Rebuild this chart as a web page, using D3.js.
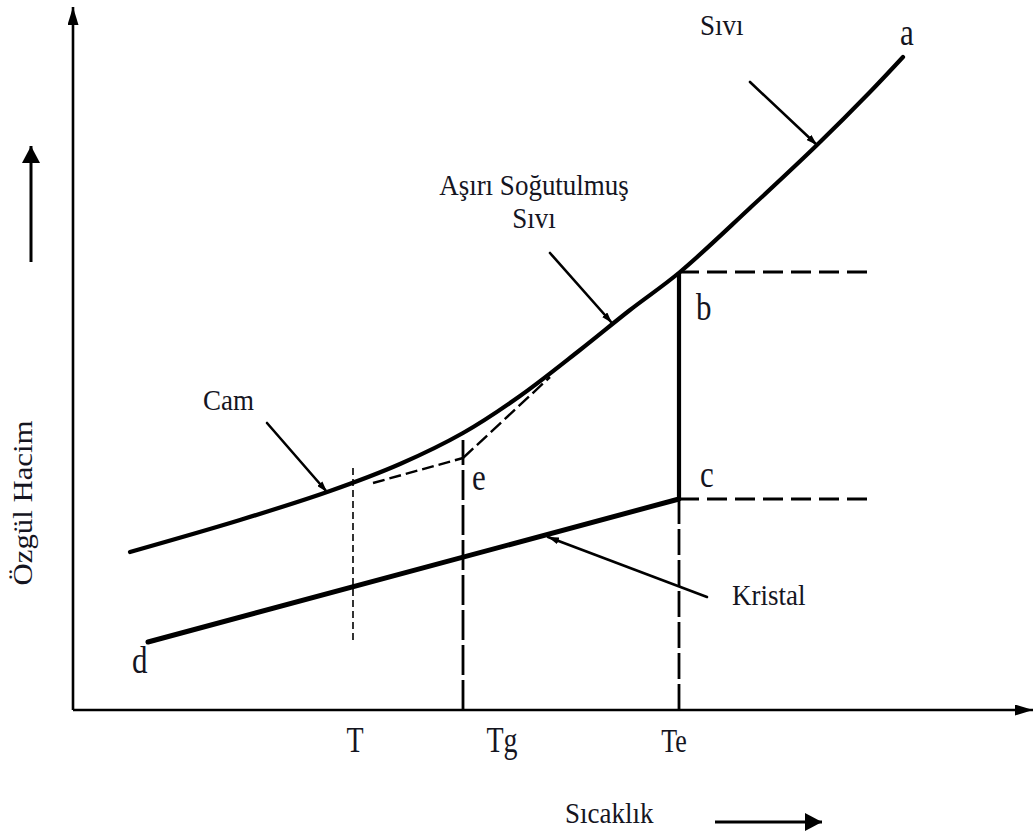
<!DOCTYPE html>
<html>
<head>
<meta charset="utf-8">
<script src="https://cdn.jsdelivr.net/npm/d3@7"></script>
<style>
  html, body { margin: 0; padding: 0; background: #fff; }
  svg { display: block; }
  text { font-family: "Liberation Serif", "Times New Roman", serif; fill: #15151f; }
</style>
</head>
<body>
<svg id="chart" width="1035" height="833"></svg>
<script>
// ---------- data (arbitrary temperature / specific-volume units) ----------
const liquidGlassCurveX = [5.7, 16.7, 25.7, 32.7, 39.0, 44.7, 50.7, 55.7, 60.7, 67.7, 74.4, 79.7, 83.0];
const liquidGlassCurveY = [15.8, 19.0, 21.9, 24.6, 27.7, 31.4, 36.0, 40.0, 43.8, 50.2, 56.5, 61.8, 65.3];

const crystalX = [7.5, 60.6];
const crystalY = [6.8, 21.1];

const tickNames = ["T", "Tg", "Te"];
const tickValues = [28.0, 39.0, 60.6];

const levelB = 43.8;       // liquid volume at Te
const levelC = 21.1;       // crystal volume at Te
const levelEnd = 80.2;     // end of horizontal dashed guides
const eX = 39.0, eY = 25.2;           // point e
const glassExtrapStart = [30.0, 22.7];
const liquidExtrapEnd = [47.7, 33.3];
const tLineRange = [7.0, 24.5];
const tgLineTop = 27.0;

const pointLabels = ["a", "b", "c", "d", "e"];
const pointLabelX = [82.7, 62.3, 62.7, 5.9, 39.9];
const pointLabelY = [66.5, 39.0, 22.3, 3.7, 22.0];

const annotationTexts = ["Cam", "Sıvı", "Kristal"];
const annotationTextX = [13.0, 62.7, 65.9];
const annotationTextY = [30.0, 67.5, 10.5];
const annotationFromX = [19.4, 67.7, 63.4, 47.7];
const annotationFromY = [28.7, 62.8, 11.3, 45.7];
const annotationToX   = [25.4, 74.4, 47.5, 53.9];
const annotationToY   = [21.8, 56.5, 17.3, 38.7];
const supercooledLines = ["Aşırı Soğutulmuş", "Sıvı"];
const supercooledX = 46.1;
const supercooledY = [51.5, 48.2];

const xAxisTitle = "Sıcaklık";
const yAxisTitle = "Özgül Hacim";

// ---------- scales ----------
const svg = d3.select("#chart");
const x = d3.scaleLinear().domain([0, 96]).range([73, 1033]);
const y = d3.scaleLinear().domain([0, 70.2]).range([710, 8]);

// markers
const defs = svg.append("defs");
function marker(id, w, h) {
  defs.append("marker").attr("id", id)
    .attr("viewBox", `0 0 ${w} ${h}`).attr("refX", w).attr("refY", h / 2)
    .attr("markerWidth", w).attr("markerHeight", h).attr("markerUnits", "userSpaceOnUse")
    .attr("orient", "auto")
    .append("path").attr("d", `M0,0L${w},${h / 2}L0,${h}Z`).attr("fill", "#000");
}
marker("axisHead", 18, 11);
marker("bigHead", 17, 18);
marker("smallHead", 11, 7);

// ---------- axes ----------
const g = svg.append("g");
g.append("line").attr("x1", x(0)).attr("y1", y(0)).attr("x2", x(0)).attr("y2", y(70.2) - 1)
  .attr("stroke", "#000").attr("stroke-width", 2.6).attr("marker-end", "url(#axisHead)");
g.append("line").attr("x1", x(0)).attr("y1", y(0)).attr("x2", x(96)).attr("y2", y(0))
  .attr("stroke", "#000").attr("stroke-width", 2.6).attr("marker-end", "url(#axisHead)");

// tick labels (placed under their positions, as in the original drawing)
const tickLabelShift = [2, 39, -5];
tickNames.forEach((t, i) => {
  g.append("text").text(t)
    .attr("text-anchor", "middle")
    .attr("transform", `translate(${x(tickValues[i]) + tickLabelShift[i]},752) scale(1,1.3)`)
    .attr("font-size", i === 2 ? 26 : 28);
});

// axis titles
g.append("text").text(xAxisTitle).attr("font-size", 27)
  .attr("transform", "translate(565,823) scale(1,1.1)");
g.append("text").text(yAxisTitle).attr("font-size", 28).attr("text-anchor", "middle")
  .attr("transform", "translate(32,503) rotate(-90) scale(1.1,1)");

// direction arrows
g.append("line").attr("x1", 31).attr("y1", 262).attr("x2", 31).attr("y2", 146)
  .attr("stroke", "#000").attr("stroke-width", 3).attr("marker-end", "url(#bigHead)");
g.append("line").attr("x1", 715).attr("y1", 822).attr("x2", 822).attr("y2", 822)
  .attr("stroke", "#000").attr("stroke-width", 3).attr("marker-end", "url(#bigHead)");

// ---------- guide lines ----------
function seg(x1, y1, x2, y2, w, dash) {
  const l = g.append("line").attr("x1", x(x1)).attr("y1", y(y1)).attr("x2", x(x2)).attr("y2", y(y2))
    .attr("stroke", "#000").attr("stroke-width", w);
  if (dash) l.attr("stroke-dasharray", dash);
  return l;
}
// T line (thin, short dashes)
seg(tickValues[0], tLineRange[0], tickValues[0], tLineRange[1], 1.6, "7,4");
// Tg line
seg(tickValues[1], 0, tickValues[1], tgLineTop, 2.8, "30,5");
// Te: dashed below c, solid from c to b
seg(tickValues[2], 0, tickValues[2], levelC, 2.8, "26,5");
seg(tickValues[2], levelC, tickValues[2], levelB, 4.2, null);
// horizontal guides
seg(tickValues[2], levelB, levelEnd, levelB, 2.8, "20,8");
seg(tickValues[2], levelC, levelEnd, levelC, 2.8, "20,8");
// extrapolations through e
seg(glassExtrapStart[0], glassExtrapStart[1], eX, eY, 2.4, "12,5");
seg(eX, eY, liquidExtrapEnd[0], liquidExtrapEnd[1], 2.4, "14,5");

// ---------- main curves ----------
const curvePts = liquidGlassCurveX.map((v, i) => [v, liquidGlassCurveY[i]]);
const line = d3.line().x(d => x(d[0])).y(d => y(d[1])).curve(d3.curveCatmullRom.alpha(0.5));
g.append("path").attr("d", line(curvePts)).attr("fill", "none")
  .attr("stroke", "#000").attr("stroke-width", 4.2).attr("stroke-linecap", "round");
const crystalPts = crystalX.map((v, i) => [v, crystalY[i]]);
g.append("path").attr("d", d3.line().x(d => x(d[0])).y(d => y(d[1]))(crystalPts)).attr("fill", "none")
  .attr("stroke", "#000").attr("stroke-width", 5).attr("stroke-linecap", "round");

// ---------- annotation arrows ----------
annotationFromX.forEach((v, i) => {
  g.append("line").attr("x1", x(v)).attr("y1", y(annotationFromY[i]))
    .attr("x2", x(annotationToX[i])).attr("y2", y(annotationToY[i]))
    .attr("stroke", "#000").attr("stroke-width", 2.6).attr("stroke-linecap", "round")
    .attr("marker-end", "url(#smallHead)");
});

// ---------- labels ----------
annotationTexts.forEach((t, i) => {
  g.append("text").text(t).attr("font-size", 27)
    .attr("transform", `translate(${x(annotationTextX[i])},${y(annotationTextY[i])}) scale(1,1.12)`);
});
supercooledLines.forEach((t, i) => {
  g.append("text").text(t).attr("font-size", 27).attr("text-anchor", "middle")
    .attr("transform", `translate(${x(supercooledX)},${y(supercooledY[i])}) scale(1,1.1)`);
});
pointLabels.forEach((t, i) => {
  g.append("text").text(t).attr("font-size", 31)
    .attr("transform", `translate(${x(pointLabelX[i])},${y(pointLabelY[i])}) scale(1,1.25)`);
});
</script>
</body>
</html>
